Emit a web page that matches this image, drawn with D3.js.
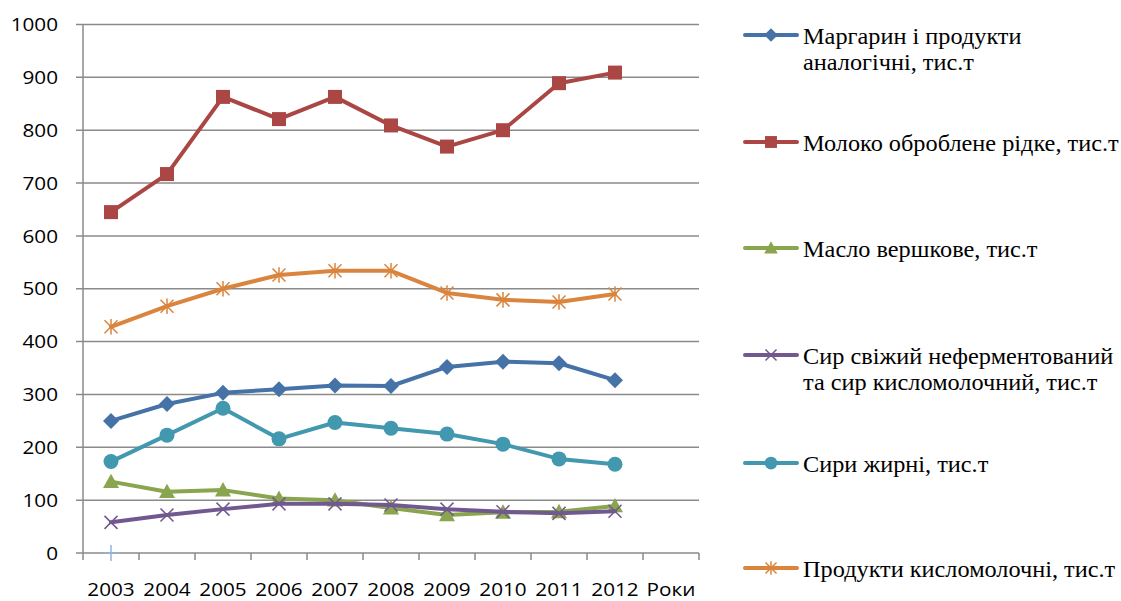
<!DOCTYPE html>
<html>
<head>
<meta charset="utf-8">
<script src="https://cdn.jsdelivr.net/npm/d3@7"></script>
<style>
  body { margin: 0; background: #fff; }
  svg { display: block; }
  .tick-label { font-family: "Open Sans", sans-serif; font-size: 18.5px; fill: #000; }
  .legend-text { font-family: "Liberation Serif", "Times New Roman", serif; font-size: 22.5px; fill: #000; }
</style>
</head>
<body>
<svg id="chart" width="1121" height="601"></svg>
<script>
var categories = ["2003", "2004", "2005", "2006", "2007", "2008", "2009", "2010", "2011", "2012", "Роки"];
var years = ["2003", "2004", "2005", "2006", "2007", "2008", "2009", "2010", "2011", "2012"];
var yTicks = [0, 100, 200, 300, 400, 500, 600, 700, 800, 900, 1000];

var margarine = [250, 282, 303, 310, 317, 316, 352, 362, 359, 327];
var milk = [645, 717, 863, 821, 863, 809, 769, 800, 889, 909];
var butter = [135, 116, 119, 103, 100, 85, 72, 77, 78, 89];
var freshCheese = [58, 72, 83, 93, 93, 91, 83, 78, 75, 79];
var fatCheese = [173, 223, 274, 216, 247, 236, 225, 206, 178, 168];
var sourMilk = [428, 467, 500, 526, 534, 534, 492, 479, 475, 490];
var extraPoint = [0]; // одиночна точка на 2003

var series = [
	{name: ["Маргарин і продукти", "аналогічні, тис.т"], values: margarine, color: "#4572A7", marker: "diamond"},
	{name: ["Молоко оброблене рідке, тис.т"], values: milk, color: "#AA4643", marker: "square"},
	{name: ["Масло вершкове, тис.т"], values: butter, color: "#89A54E", marker: "triangle"},
	{name: ["Сир свіжий неферментований", "та сир кисломолочний, тис.т"], values: freshCheese, color: "#71588F", marker: "x"},
	{name: ["Сири жирні, тис.т"], values: fatCheese, color: "#4198AF", marker: "circle"},
	{name: ["Продукти кисломолочні, тис.т"], values: sourMilk, color: "#DB843D", marker: "star"}
];

var svg = d3.select("#chart");

var plot = {left: 83, right: 699, top: 24.5, bottom: 553};

var x = d3.scaleBand()
	.domain(categories)
	.range([plot.left, plot.right])
	.paddingInner(0)
	.paddingOuter(0);

var y = d3.scaleLinear()
	.domain([0, 1000])
	.range([plot.bottom, plot.top]);

function cx(c) { return x(c) + x.bandwidth() / 2; }

/* Gridlines */
svg.append("g")
	.selectAll("line")
	.data(yTicks)
	.enter().append("line")
	.attr("x1", plot.left - 7)
	.attr("x2", plot.right)
	.attr("y1", function(d){ return y(d); })
	.attr("y2", function(d){ return y(d); })
	.attr("stroke", "#8a8a8a")
	.attr("stroke-width", 1.5);

/* Axis lines */
svg.append("line")
	.attr("x1", plot.left).attr("x2", plot.left)
	.attr("y1", plot.top).attr("y2", plot.bottom)
	.attr("stroke", "#8a8a8a")
	.attr("stroke-width", 1.5);

svg.append("g")
	.selectAll("line")
	.data(categories.concat(["end"]))
	.enter().append("line")
	.attr("x1", function(d){ return d == "end" ? plot.right : x(d); })
	.attr("x2", function(d){ return d == "end" ? plot.right : x(d); })
	.attr("y1", plot.bottom)
	.attr("y2", plot.bottom + 7)
	.attr("stroke", "#8a8a8a")
	.attr("stroke-width", 1.5);

/* Tick labels (slightly stretched, like the original) */
svg.append("g")
	.selectAll("text")
	.data(yTicks)
	.enter().append("text")
	.attr("class", "tick-label")
	.attr("transform", function(d){ return "translate(58," + y(d) + ") scale(1.12,1)"; })
	.attr("dy", "0.36em")
	.attr("text-anchor", "end")
	.text(function(d){ return d; });

svg.append("g")
	.selectAll("text")
	.data(categories)
	.enter().append("text")
	.attr("class", "tick-label")
	.attr("transform", function(d){ return "translate(" + cx(d) + ",596) scale(1.12,1)"; })
	.attr("text-anchor", "middle")
	.text(function(d){ return d; });

/* Markers */
function markerPath(type, s) {
	switch(type) {
		case "diamond":
			return "M0," + (-s) + "L" + s + ",0L0," + s + "L" + (-s) + ",0Z";
		case "square":
			return "M" + (-s) + "," + (-s) + "h" + 2*s + "v" + 2*s + "h" + (-2*s) + "Z";
		case "triangle":
			return "M0," + (-s) + "L" + s + "," + (s*0.8) + "L" + (-s) + "," + (s*0.8) + "Z";
		case "x":
			return "M" + (-s) + "," + (-s) + "L" + s + "," + s + "M" + s + "," + (-s) + "L" + (-s) + "," + s;
		case "star":
			return "M" + (-s) + "," + (-s) + "L" + s + "," + s + "M" + s + "," + (-s) + "L" + (-s) + "," + s +
				"M0," + (-s*1.2) + "L0," + (s*1.2);
		case "plus":
			return "M" + (-s) + ",0L" + s + ",0M0," + (-s) + "L0," + s;
	}
}

var markerSize = {diamond: 8, square: 7, triangle: 8, x: 6.5, star: 6.5, plus: 8};

function drawMarker(g, type, color, px, py, scale) {
	if (type == "circle") {
		g.append("circle")
			.attr("cx", px).attr("cy", py)
			.attr("r", 7.5 * scale)
			.attr("fill", color);
	} else if (type == "x" || type == "star" || type == "plus") {
		g.append("path")
			.attr("transform", "translate(" + px + "," + py + ")")
			.attr("d", markerPath(type, markerSize[type] * scale))
			.attr("fill", "none")
			.attr("stroke", color)
			.attr("stroke-width", 1.5);
	} else {
		g.append("path")
			.attr("transform", "translate(" + px + "," + py + ")")
			.attr("d", markerPath(type, markerSize[type] * scale))
			.attr("fill", color);
	}
}

var line = d3.line()
	.x(function(d, i){ return cx(years[i]); })
	.y(function(d){ return y(d); });

series.forEach(function(s) {
	var g = svg.append("g");
	g.append("path")
		.datum(s.values)
		.attr("d", line)
		.attr("fill", "none")
		.attr("stroke", s.color)
		.attr("stroke-width", 4)
		.attr("stroke-linejoin", "round")
		.attr("stroke-linecap", "round");
	s.values.forEach(function(v, i) {
		drawMarker(g, s.marker, s.color, cx(years[i]), y(v), 1);
	});
});

drawMarker(svg.append("g"), "plus", "#95B3D7", cx(years[0]), y(extraPoint[0]), 1);

/* Legend */
var legendY = [35, 142, 248, 355, 463, 568];

var legend = svg.append("g");
series.forEach(function(s, i) {
	var ly = legendY[i];
	var g = legend.append("g");
	g.append("line")
		.attr("x1", 745).attr("x2", 797)
		.attr("y1", ly).attr("y2", ly)
		.attr("stroke", s.color)
		.attr("stroke-width", 4)
		.attr("stroke-linecap", "round");
	drawMarker(g, s.marker, s.color, 771, ly, 0.85);
	var t = g.append("text")
		.attr("class", "legend-text")
		.attr("transform", "translate(803," + (ly + 8.5) + ") scale(1.08,1)");
	s.name.forEach(function(n, j) {
		t.append("tspan")
			.attr("x", 0)
			.attr("dy", j == 0 ? 0 : 26.5)
			.text(n);
	});
});
</script>
</body>
</html>
